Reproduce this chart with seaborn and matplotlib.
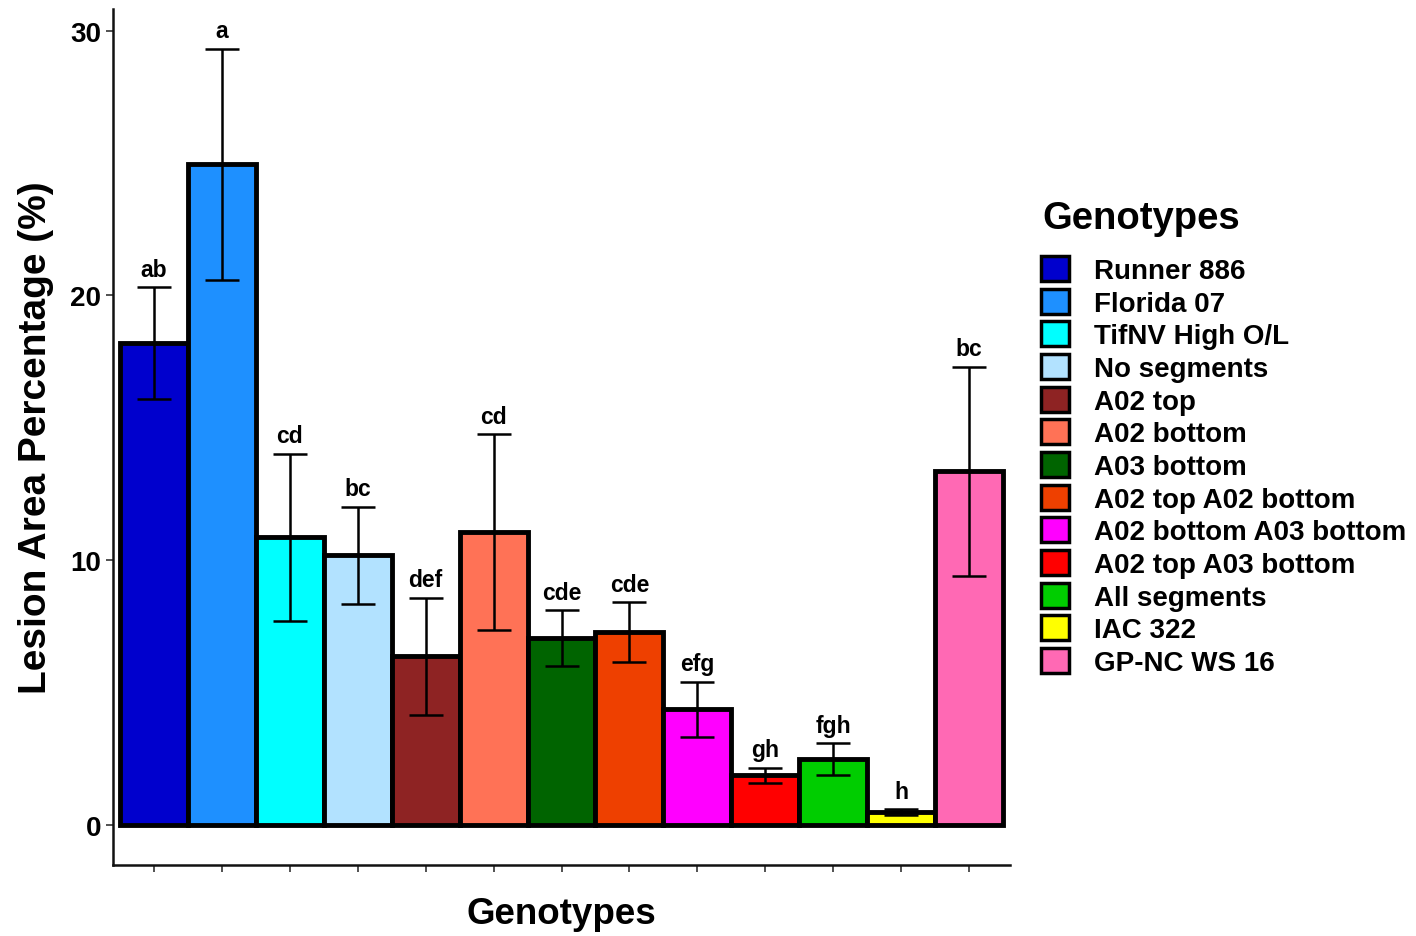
import matplotlib
matplotlib.use("Agg")
import matplotlib.pyplot as plt
import seaborn as sns
import pandas as pd
from matplotlib.patches import Patch

genotypes = ["Runner 886", "Florida 07", "TifNV High O/L", "No segments", "A02 top",
             "A02 bottom", "A03 bottom", "A02 top A02 bottom", "A02 bottom A03 bottom",
             "A02 top A03 bottom", "All segments", "IAC 322", "GP-NC WS 16"]
means = [18.2, 24.95, 10.87, 10.2, 6.38, 11.06, 7.06, 7.28, 4.37, 1.88, 2.49, 0.49, 13.36]
errors = [2.1, 4.35, 3.15, 1.83, 2.2, 3.7, 1.06, 1.13, 1.04, 0.28, 0.6, 0.11, 3.94]
letters = ["ab", "a", "cd", "bc", "def", "cd", "cde", "cde", "efg", "gh", "fgh", "h", "bc"]
colors = ["#0000CD", "#1E90FF", "#00FFFF", "#B2E2FF", "#8E2323", "#FF7256", "#006400",
          "#EE4000", "#FF00FF", "#FF0000", "#00CD00", "#FFFF00", "#FF69B4"]

sns.set_theme(style="white")
plt.rcParams['font.family'] = ['Liberation Sans', 'DejaVu Sans']
plt.rcParams['font.weight'] = 'bold'
plt.rcParams['text.color'] = 'black'

df = pd.DataFrame({"Genotypes": genotypes, "value": means})

fig = plt.figure(figsize=(14.16, 9.37), dpi=100)
ax = fig.add_axes([0.0798, 0.0758, 0.6335, 0.9132])

sns.barplot(data=df, x="Genotypes", y="value", hue="Genotypes", order=genotypes,
            hue_order=genotypes, palette=colors, dodge=False, width=1.0, saturation=1,
            edgecolor="black", linewidth=3.5, legend=False, ax=ax, errorbar=None)

xs = list(range(len(genotypes)))
ax.errorbar(xs, means, yerr=errors, fmt="none", ecolor="black", elinewidth=1.8,
            capsize=12, capthick=1.8, zorder=5)
for x, m, e, lab in zip(xs, means, errors, letters):
    ax.text(x, m + e + 0.25, lab, ha="center", va="bottom", fontsize=16.5,
            fontweight="bold", color="black")

ax.set_xlim(-0.6, 12.6)
ax.set_ylim(-1.5, 30.8)
ax.set_yticks([0, 10, 20, 30])
ax.set_yticklabels(["0", "10", "20", "30"], fontsize=20, fontweight="bold", color="black")
ax.set_xticks(xs)
ax.set_xticklabels([])
ax.tick_params(axis="both", which="both", direction="out", length=5, width=1.2,
               color="#333333", bottom=True, left=True)
ax.set_xlabel("Genotypes", fontsize=26.5, fontweight="bold", labelpad=14, color="black")
ax.set_ylabel("Lesion Area Percentage (%)", fontsize=28, fontweight="bold", labelpad=12,
              color="black")
for s in ["top", "right"]:
    ax.spines[s].set_visible(False)
for s in ["left", "bottom"]:
    ax.spines[s].set_linewidth(1.8)
    ax.spines[s].set_color("#111111")
ax.grid(False)

fig.text(1042 / 1416, 1 - 219 / 937, "Genotypes", ha="left", va="center",
         fontsize=27.5, fontweight="bold", color="black")
handles = [Patch(facecolor=c, edgecolor="black", linewidth=2.5) for c in colors]
leg = fig.legend(handles, genotypes, loc="upper left",
                 bbox_to_anchor=(1041 / 1416, 1 - 257 / 937), frameon=False,
                 prop={"size": 20, "weight": "bold"}, handlelength=1.0, handleheight=1.0,
                 labelspacing=0.17, handletextpad=0.9, borderaxespad=0.0, borderpad=0.0)
for t in leg.get_texts():
    t.set_color("black")

fig.savefig("out.png", dpi=100)
